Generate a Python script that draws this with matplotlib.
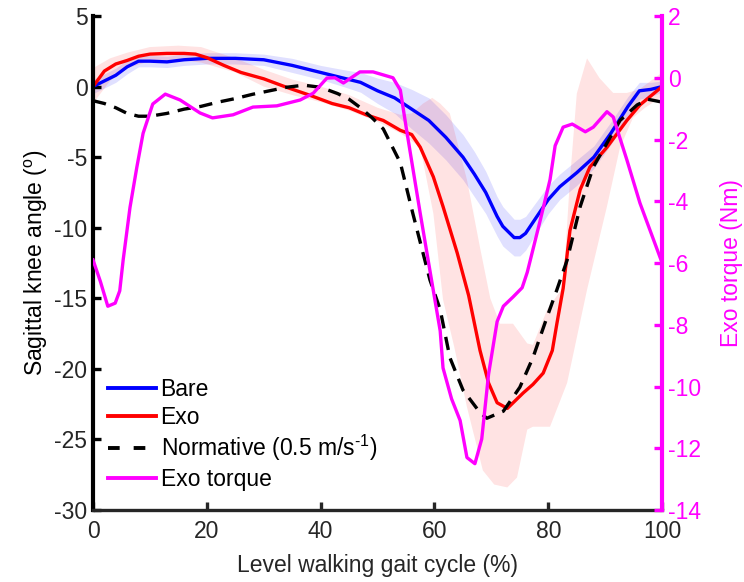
import numpy as np
import matplotlib
matplotlib.use("Agg")
import matplotlib.pyplot as plt
from matplotlib.lines import Line2D

plt.rcParams['font.family'] = ['Liberation Sans', 'DejaVu Sans']
plt.rcParams['mathtext.fontset'] = 'custom'
plt.rcParams['mathtext.rm'] = 'Liberation Sans'
plt.rcParams['mathtext.it'] = 'Liberation Sans'
plt.rcParams['axes.unicode_minus'] = False

# ---- Knee angle, bare condition (mean and spread) ----
bare_x = [0, 2, 4, 6, 8, 10, 13, 16, 20, 25, 30, 35, 40, 44, 47, 50, 53, 56, 59,
          62, 65, 67, 69, 71, 72, 74, 75, 76, 78, 80, 82, 85, 88, 91, 94, 96, 98, 100]
bare_mean = [0.0, 0.4, 0.8, 1.4, 1.8, 1.8, 1.75, 1.9, 2.0, 2.0, 1.9, 1.5, 1.0, 0.6,
             0.3, -0.3, -0.8, -1.6, -2.4, -3.6, -5.0, -6.2, -7.5, -9.2, -9.9, -10.7,
             -10.7, -10.4, -9.2, -8.0, -7.1, -6.1, -5.0, -3.3, -1.4, -0.3, -0.2, 0.0]
bare_sd = [0.5, 0.5, 0.5, 0.5, 0.4, 0.4, 0.4, 0.4, 0.4, 0.4, 0.4, 0.5, 0.5, 0.6,
           0.7, 0.9, 1.1, 1.4, 1.6, 1.6, 1.6, 1.6, 1.5, 1.4, 1.4, 1.3, 1.3, 1.2,
           1.1, 1.0, 0.9, 0.9, 0.8, 0.8, 0.7, 0.6, 0.5, 0.4]

# ---- Knee angle, exoskeleton condition ----
exo_x = [0, 2, 4, 6, 8, 10, 13, 16, 18, 20, 23, 26, 30, 34, 38, 42, 45, 48, 51,
         54, 56, 57.5, 59.8, 61.5, 64, 66, 68, 69.5, 71, 72.8, 75.6, 77.3, 79.1,
         80.7, 81.5, 82.6, 83.8, 85.6, 87.3, 90.3, 93.8, 96.1, 100]
exo_mean = [0.0, 1.1, 1.6, 1.85, 2.15, 2.3, 2.35, 2.35, 2.3, 2.05, 1.5, 1.0, 0.55,
            -0.05, -0.6, -1.2, -1.5, -2.0, -2.4, -3.1, -3.4, -4.3, -6.4, -8.5,
            -11.8, -14.8, -18.7, -21.0, -22.4, -22.8, -21.7, -21.1, -20.3, -18.7,
            -16.8, -14.3, -10.2, -7.3, -5.7, -4.3, -2.4, -1.3, 0.0]

# Spread envelope of the exoskeleton condition
exo_hi_x = [0, 3, 6, 10, 15, 19, 25, 30, 35, 40, 45, 50, 54, 56, 58, 59.6, 61,
            62.7, 65.7, 68, 69.8, 71.5, 73.8, 76.3, 77.3, 79.8, 82.6, 83.8, 85,
            86.8, 89, 91.4, 93.8, 96, 100]
exo_hi = [1.3, 2.0, 2.4, 2.8, 2.9, 2.8, 2.0, 1.2, 0.5, 0.0, -0.6, -1.5, -2.0, -1.9,
          -1.2, -0.8, -1.2, -1.9, -6.6, -11.4, -15.0, -16.8, -16.8, -18.2, -18.3,
          -15.8, -14.2, -6.6, -0.5, 2.0, 0.6, -0.45, -0.45, -0.2, 1.0]
exo_lo_x = [0, 3, 6, 10, 15, 19, 25, 30, 35, 40, 45, 50, 54, 57.5, 59.8, 61.5,
            63.5, 65.7, 68.5, 70.5, 72.8, 74.5, 76.3, 77.3, 80.3, 83.3, 86.8, 90.3,
            92.6, 94.9, 97, 100]
exo_lo = [-1.2, 0.4, 1.3, 1.8, 1.9, 1.7, 1.0, 0.0, -0.6, -1.1, -1.7, -2.5, -3.3,
          -4.3, -9.0, -15.1, -18.5, -22.7, -27.2, -28.2, -28.4, -27.7, -24.3,
          -24.1, -24.1, -21.0, -14.4, -8.5, -4.3, -2.2, -1.5, -0.7]

# ---- Normative knee angle at 0.5 m/s ----
norm_x = [0, 2, 4, 6, 8, 10, 13, 16, 19, 22, 25, 28, 31, 34, 37, 40, 43, 45, 47,
          49, 51, 53, 54, 56.2, 59.2, 61, 62.7, 65, 68, 69.2, 72.1, 75, 77.3, 79.8,
          81.5, 83.3, 85.6, 87.9, 90.3, 92.6, 95.6, 97.5, 100]
norm_mean = [-1.0, -1.2, -1.5, -1.9, -2.1, -2.1, -1.9, -1.6, -1.4, -1.1, -0.85,
             -0.55, -0.3, -0.05, 0.1, -0.05, -0.5, -0.9, -1.5, -2.2, -3.0, -4.6,
             -5.4, -9.0, -13.7, -15.8, -19.2, -21.5, -23.1, -23.5, -23.0, -21.3,
             -19.2, -16.3, -14.4, -12.3, -8.5, -5.7, -4.0, -2.4, -1.3, -0.9, -1.1]

# ---- Exoskeleton torque (right axis) ----
torque_x = [0, 1.3, 2.6, 3.9, 4.7, 5.3, 6.5, 7.7, 8.8, 10.5, 12.7, 15.3, 18.8, 21,
            24.6, 28.1, 32.3, 36.4, 38.7, 41.1, 42.5, 44, 46.9, 49.2, 52.7, 54,
            55.1, 57.5, 59.8, 61, 61.5, 63, 64.5, 65.7, 67.1, 68.3, 69.5, 71, 72.1,
            73.8, 75.4, 76.3, 78.6, 80.3, 81.2, 82.6, 84.2, 86.5, 87.9, 90.3, 91.4,
            93.8, 96.1, 100]
torque = [-5.9, -6.6, -7.4, -7.3, -6.9, -5.9, -4.2, -2.9, -1.8, -0.85, -0.53,
          -0.72, -1.14, -1.3, -1.2, -0.95, -0.91, -0.72, -0.5, -0.01, 0.0, -0.17,
          0.19, 0.19, 0.0, -0.4, -1.7, -4.4, -6.9, -8.2, -9.4, -10.4, -11.1,
          -12.3, -12.5, -11.7, -9.6, -7.9, -7.4, -7.1, -6.8, -6.3, -4.6, -3.3,
          -2.2, -1.6, -1.5, -1.75, -1.6, -1.1, -1.27, -2.66, -4.06, -6.0]

x_ticks = [0, 20, 40, 60, 80, 100]
angle_ticks = [5, 0, -5, -10, -15, -20, -25, -30]
torque_ticks = [2, 0, -2, -4, -6, -8, -10, -12, -14]

BLUE, RED, MAG = '#0000ff', '#ff0000', '#ff00ff'
DARK = '#262626'
FS = 16.5
DASH = (0, (4.0, 2.6))

fig = plt.figure(figsize=(7.44, 5.82), dpi=100)
ax = fig.add_axes([0.125, 0.1237, 0.765, 0.8488])
ax2 = ax.twinx()

# spread bands
bx = np.array(bare_x)
bm = np.array(bare_mean)
bs = np.array(bare_sd)
ax.fill_between(bx, bm - bs, bm + bs, color=BLUE, alpha=0.12, lw=0)
ax.fill(np.r_[exo_hi_x, exo_lo_x[::-1]], np.r_[exo_hi, exo_lo[::-1]],
        color=RED, alpha=0.11, lw=0)

# mean curves
ax.plot(bare_x, bare_mean, color=BLUE, lw=2.4)
ax.plot(exo_x, exo_mean, color=RED, lw=2.4)
ax.plot(norm_x, norm_mean, color='black', lw=2.4, ls=DASH)
ax2.plot(torque_x, torque, color=MAG, lw=2.4)

# left axis
ax.set_xlim(0, 100)
ax.set_ylim(-30, 5)
ax.set_xticks(x_ticks)
ax.set_yticks(angle_ticks)
ax.spines['top'].set_visible(False)
ax.spines['right'].set_visible(False)
ax.spines['left'].set_linewidth(3.0)
ax.spines['left'].set_color('black')
ax.spines['bottom'].set_linewidth(2.4)
ax.spines['bottom'].set_color(DARK)
ax.tick_params(axis='x', direction='in', length=6, width=2.4, colors=DARK,
               labelsize=FS, pad=7)
ax.tick_params(axis='y', direction='in', length=6, width=2.4, colors='black',
               labelcolor=DARK, labelsize=FS, pad=4)
ax.set_xlabel('Level walking gait cycle (%)', fontsize=FS, color=DARK, labelpad=8)
ax.set_ylabel('Sagittal knee angle ($^{\\mathrm{o}}$)', fontsize=FS, color='black',
              labelpad=3)

# right axis
ax2.set_ylim(-14, 2)
ax2.set_yticks(torque_ticks)
for s in ('top', 'left', 'bottom'):
    ax2.spines[s].set_visible(False)
ax2.spines['right'].set_linewidth(3.0)
ax2.spines['right'].set_color(MAG)
ax2.tick_params(axis='y', direction='in', length=6, width=2.4, colors=MAG,
                labelsize=FS, pad=4)
ax2.set_ylabel('Exo torque (Nm)', fontsize=FS, color=MAG, labelpad=14)

handles = [Line2D([], [], color=BLUE, lw=2.8),
           Line2D([], [], color=RED, lw=2.8),
           Line2D([], [], color='black', lw=2.8, ls=(0, (3.0, 3.6))),
           Line2D([], [], color=MAG, lw=2.8)]
labels = ['Bare', 'Exo', 'Normative (0.5 m/s$^{\\text{-1}}$)', 'Exo torque']
leg = ax2.legend(handles, labels, loc='lower left', bbox_to_anchor=(0.01, 0.02),
                 frameon=False, fontsize=FS, handlelength=2.1, handletextpad=0.2,
                 labelspacing=0.2, borderaxespad=0.0)

fig.savefig('out.png', dpi=100)
